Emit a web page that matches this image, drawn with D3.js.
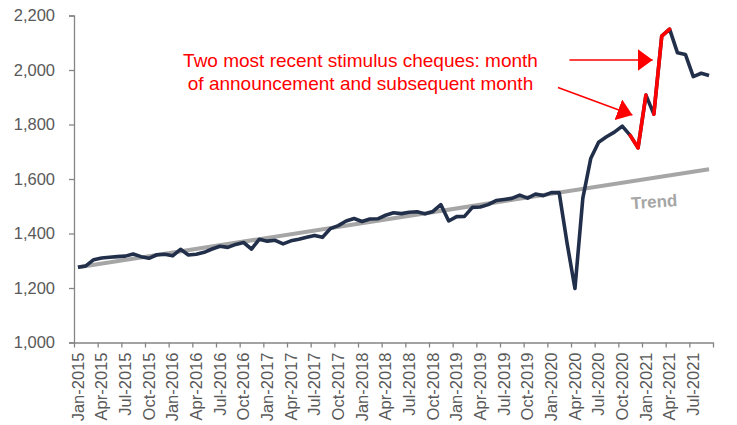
<!DOCTYPE html>
<html>
<head>
<meta charset="utf-8">
<script src="https://cdn.jsdelivr.net/npm/d3@7"></script>
<style>
  body { margin: 0; background: #fff; }
  svg text { font-family: "Liberation Sans", Arial, sans-serif; }
</style>
</head>
<body>
<div id="chart"></div>
<script>
// --- data ---
const months = d3.timeMonth.range(new Date(2015, 0, 1), new Date(2021, 9, 1)).map(d3.timeFormat("%b-%Y"));
const values = [
  1276, 1281, 1304, 1310, 1313, 1315, 1317, 1325, 1315, 1309, 1322, 1324,
  1318, 1342, 1321, 1324, 1331, 1343, 1353, 1349, 1360, 1367, 1343, 1379,
  1372, 1375, 1362, 1373, 1379, 1386, 1393, 1386, 1418, 1429, 1446, 1455,
  1444, 1453, 1454, 1467, 1476, 1473, 1478, 1480, 1472, 1481, 1506, 1446,
  1462, 1463, 1496, 1497, 1506, 1521, 1525, 1529, 1541, 1530, 1545, 1539,
  1550, 1550, 1365, 1198, 1530, 1675, 1735, 1755, 1772, 1794, 1760, 1715,
  1908, 1838, 2124, 2150, 2063, 2057, 1976, 1988, 1980
];
const trendMonths = ["Jan-2015", "Sep-2021"];
const trendValues = [1276, 1636];
const stimulusMonths = ["Dec-2020", "Jan-2021", "Mar-2021", "Apr-2021"];
const yTicks = [1000, 1200, 1400, 1600, 1800, 2000, 2200];
const labelEvery = 3;
const noteLines = ["Two most recent stimulus cheques: month", "of announcement and subsequent month"];

// --- setup ---
const W = 737, H = 425;
const svg = d3.select("#chart").append("svg").attr("width", W).attr("height", H);

const xb = d3.scaleLinear().domain([0, months.length]).range([74, 713]); // category boundaries
const xc = i => xb(i + 0.5);                                             // category centre
const y = d3.scaleLinear().domain([1000, 2200]).range([342.5, 15.5]);

const axisGrey = "#858585", textGrey = "#595959";

// y axis
const gy = svg.append("g").attr("transform", `translate(${xb(0)},0)`)
  .call(d3.axisLeft(y).tickValues(yTicks).tickFormat(d3.format(",")).tickSize(5).tickPadding(14));
gy.select(".domain").attr("stroke", axisGrey).attr("stroke-width", 1.3);
gy.selectAll(".tick line").attr("stroke", axisGrey).attr("stroke-width", 1.3);
gy.selectAll("text").attr("fill", textGrey).style("font-size", "16.5px");

// x axis: ticks on boundaries, labels at category centres
const bounds = d3.range(0, months.length + 1, labelEvery);
const gx = svg.append("g").attr("transform", `translate(0,${y(1000)})`)
  .call(d3.axisBottom(xb).tickValues(bounds).tickFormat("").tickSize(5).tickSizeOuter(0));
gx.select(".domain").attr("stroke", axisGrey).attr("stroke-width", 1.3);
gx.selectAll(".tick line").attr("stroke", axisGrey).attr("stroke-width", 1.3);

const labelIdx = d3.range(0, months.length, labelEvery);
svg.append("g").selectAll("text").data(labelIdx).join("text")
  .attr("transform", i => `translate(${xc(i)},${y(1000) + 10}) rotate(-90)`)
  .attr("text-anchor", "end").attr("dy", "0.35em")
  .attr("fill", textGrey).style("font-size", "16.5px")
  .text(i => months[i]);

// trend line
const tIdx = trendMonths.map(m => months.indexOf(m));
svg.append("path")
  .datum(tIdx.map((i, k) => [xc(i), y(trendValues[k])]))
  .attr("d", d3.line())
  .attr("fill", "none").attr("stroke", "#a6a6a6").attr("stroke-width", 4);

svg.append("text")
  .attr("transform", `translate(${xc(73.1)},${y(1495)}) rotate(-4)`)
  .attr("text-anchor", "middle")
  .attr("fill", "#a6a6a6").style("font-size", "17px").style("font-weight", "bold")
  .text("Trend");

// main line
const line = d3.line().x(d => xc(d.i)).y(d => y(d.v));
const pts = values.map((v, i) => ({i, v}));
svg.append("path").datum(pts).attr("d", line)
  .attr("fill", "none").attr("stroke", "#222f4a").attr("stroke-width", 3.6)
  .attr("stroke-linejoin", "round");

// stimulus segments in red
stimulusMonths.forEach(m => {
  const i = months.indexOf(m);
  svg.append("path").datum([pts[i - 1], pts[i]]).attr("d", line)
    .attr("fill", "none").attr("stroke", "#ff0000").attr("stroke-width", 3.6)
    .attr("stroke-linecap", "round");
});

// annotation
svg.append("defs").append("marker")
  .attr("id", "head").attr("viewBox", "0 0 15 22")
  .attr("refX", 15).attr("refY", 11)
  .attr("markerWidth", 15).attr("markerHeight", 22)
  .attr("markerUnits", "userSpaceOnUse").attr("orient", "auto")
  .append("path").attr("d", "M0,0L15,11L0,22Z").attr("fill", "#ff0000");

const arrows = [
  [[62.3, 2037], [72.85, 2037]],
  [[60.85, 1936], [70.28, 1835]]
];
arrows.forEach(a => {
  svg.append("line")
    .attr("x1", xc(a[0][0])).attr("y1", y(a[0][1]))
    .attr("x2", xc(a[1][0])).attr("y2", y(a[1][1]))
    .attr("stroke", "#ff0000").attr("stroke-width", 1.5)
    .attr("marker-end", "url(#head)");
});

svg.append("g").selectAll("text").data(noteLines).join("text")
  .attr("x", 360.5).attr("y", (d, k) => 66.5 + k * 23.5)
  .attr("text-anchor", "middle").attr("fill", "#ff0000").style("font-size", "19px")
  .text(d => d);
</script>
</body>
</html>
